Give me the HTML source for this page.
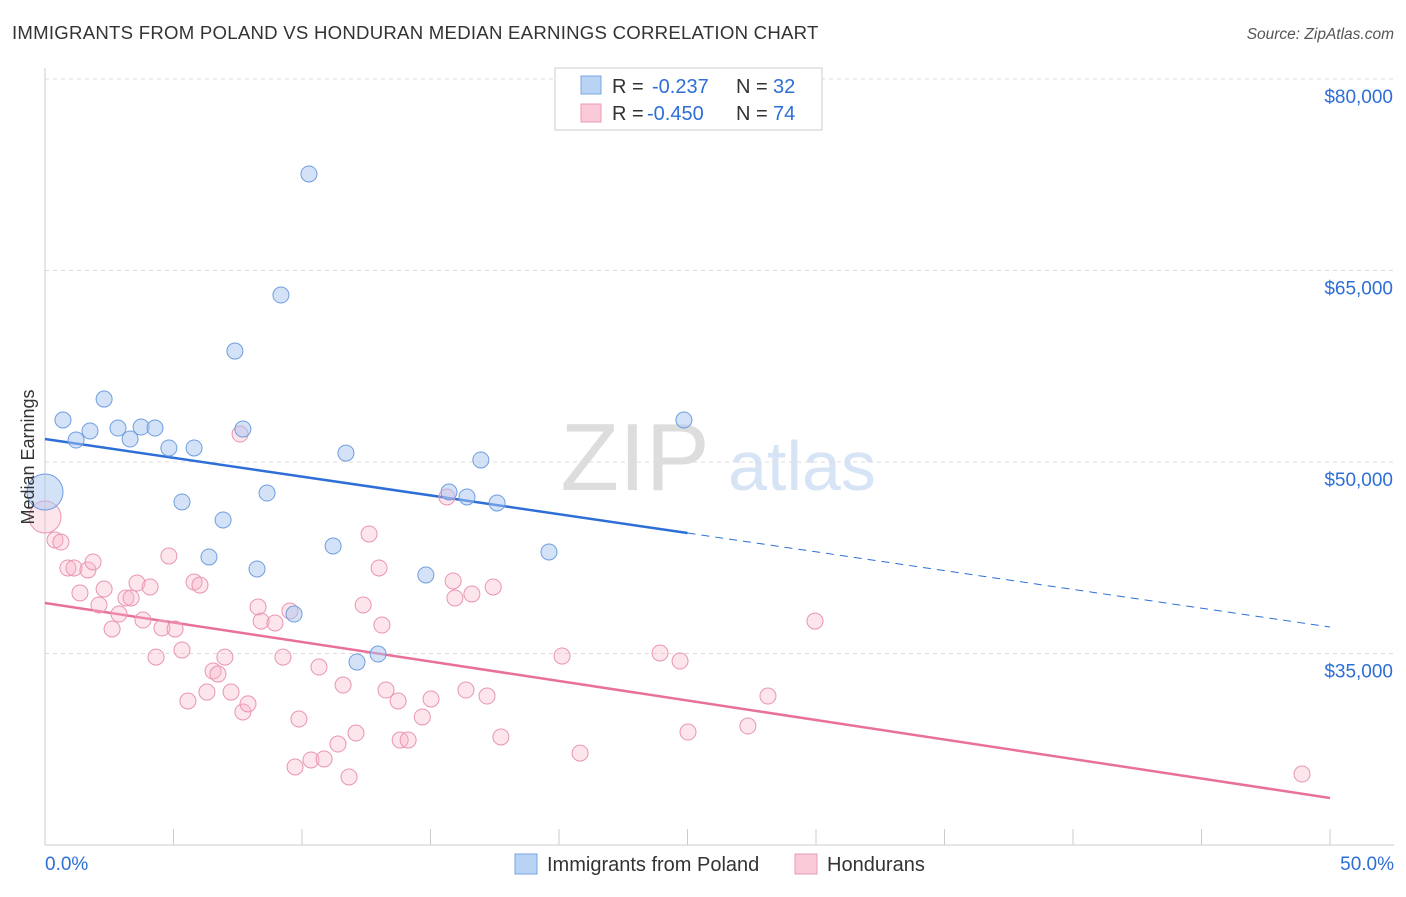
<!DOCTYPE html>
<html><head><meta charset="utf-8"><style>
body{margin:0;background:#fff;font-family:"Liberation Sans",sans-serif}
svg text{font-family:"Liberation Sans",sans-serif}
</style></head><body>
<svg id="chart" width="1406" height="892" viewBox="0 0 1406 892">
<text x="12" y="39" font-size="18.6" letter-spacing="0.25" fill="#333">IMMIGRANTS FROM POLAND VS HONDURAN MEDIAN EARNINGS CORRELATION CHART</text>
<text x="1394" y="39" font-size="15.5" fill="#555" text-anchor="end" font-style="italic">Source: ZipAtlas.com</text>
<g>
<text x="635" y="490" font-size="96" fill="#ddd" text-anchor="middle" font-family="Liberation Serif,serif">ZIP</text>
<text x="802" y="490" font-size="70" fill="#d6e4f6" text-anchor="middle">atlas</text>
</g>
<g id="grid"></g><g id="axes"></g><g id="lines"></g><g id="points"></g>
<text transform="translate(34,457) rotate(-90)" font-size="18" fill="#333" text-anchor="middle">Median Earnings</text>
<g>
<rect x="555" y="68" width="267" height="62" fill="#fff" stroke="#ccc"/>
<rect x="581" y="76" width="20" height="18" fill="#b9d3f5" stroke="#7aa6e3"/>
<text x="612" y="93" font-size="20" fill="#333">R =</text>
<text x="652" y="93" font-size="20" fill="#2d6fd6">-0.237</text>
<text x="736" y="93" font-size="20" fill="#333">N =</text>
<text x="773" y="93" font-size="20" fill="#2d6fd6">32</text>
<rect x="581" y="104" width="20" height="18" fill="#fbcad8" stroke="#ec9ab5"/>
<text x="612" y="120" font-size="20" fill="#333">R =</text>
<text x="647" y="120" font-size="20" fill="#2d6fd6">-0.450</text>
<text x="736" y="120" font-size="20" fill="#333">N =</text>
<text x="773" y="120" font-size="20" fill="#2d6fd6">74</text>
</g>
<g>
<rect x="515" y="854" width="22" height="20" fill="#b9d3f5" stroke="#7aa6e3"/>
<text x="547" y="871" font-size="20" fill="#333">Immigrants from Poland</text>
<rect x="795" y="854" width="22" height="20" fill="#fbcad8" stroke="#ec9ab5"/>
<text x="827" y="871" font-size="20" fill="#333">Hondurans</text>
</g>
</svg>
<script>
const yTicks=[35000,50000,65000,80000];
const yTickLabels=["$35,000","$50,000","$65,000","$80,000"];
const xTickLabels=["0.0%","50.0%"];
const polandX=[0,0.70,1.21,1.75,2.30,2.84,3.31,3.74,4.28,4.82,5.80,5.33,6.93,6.38,7.39,7.70,8.64,8.25,9.18,10.27,9.69,11.21,11.71,12.14,12.96,14.82,15.72,16.42,16.96,17.59,19.61,24.86];
const polandY=[47650,53290,51720,52430,54930,52660,51800,52740,52660,51100,51100,46870,45460,42560,58690,52580,47570,41620,63080,72560,38090,43420,50700,34330,34960,41150,47650,47260,50160,46790,42950,53290];
const hondX=[0,0.39,0.62,0.89,1.13,1.36,1.67,1.87,2.10,2.30,2.61,2.88,3.15,3.35,3.58,3.81,4.09,4.32,4.55,4.82,5.06,5.33,5.56,5.80,6.03,6.30,6.54,6.73,7.00,7.24,7.59,7.70,7.90,8.29,8.41,8.95,9.26,9.53,9.73,9.88,10.35,10.66,10.86,11.40,11.60,11.83,12.10,12.38,12.61,13.00,13.11,13.27,13.74,13.82,14.13,14.68,15.02,15.64,15.88,15.95,16.38,16.61,17.20,17.44,17.74,20.12,20.82,23.93,24.71,25.02,27.35,28.13,29.96,48.91];
const hondY=[45690,43890,43730,41700,41700,39740,41540,42170,38800,40050,36920,38090,39350,39350,40520,37620,40210,34720,37000,42640,36920,35270,31280,40600,40360,31980,33630,33390,34720,31980,52190,30420,31050,38640,37540,37390,34720,38330,26110,29870,26660,33940,26740,27910,32530,25330,28770,38800,44360,41700,37230,32140,31280,28220,28220,30030,31440,47260,40680,39350,32140,39660,31670,40210,28460,34800,27200,35040,34410,28850,29320,31670,37540,25560];
const polandTrend=[51800,37075];
const hondTrend=[38955,23680];
const NS="http://www.w3.org/2000/svg";
const X=v=>45+v/50*1285;
const Y=v=>79+(80000-v)/15000*191.5;
function mk(parent,tag,attrs){const e=document.createElementNS(NS,tag);for(const k in attrs)e.setAttribute(k,attrs[k]);document.getElementById(parent).appendChild(e);return e;}
yTicks.forEach((t,i)=>{
 const g=mk('grid','line',{x1:45,x2:1394,y1:Y(t),y2:Y(t),stroke:'#ddd','stroke-dasharray':'4,4'});
 
 
 const l=mk('axes','text',{x:1393,y:Y(t)+24,'font-size':19,fill:'#2d6fd6','text-anchor':'end'});
 l.textContent=yTickLabels[i];
 
 
});
const ax=mk('axes','line',{x1:45,x2:1394,y1:845,y2:845,stroke:'#ccc'});


const ay=mk('axes','line',{x1:45,x2:45,y1:68,y2:845,stroke:'#ccc'});


for(let p=0;p<=50;p+=5){
 const t=mk('axes','line',{x1:X(p),x2:X(p),y1:829,y2:845,stroke:'#ccc'});
 
 
}
[[0,'start',45],[50,'end',1394]].forEach((d,i)=>{
 const l=mk('axes','text',{x:d[2],y:870,'font-size':19,fill:'#2d6fd6','text-anchor':d[1]});
 l.textContent=xTickLabels[i];
 
 
});
const at=(tr,x)=>tr[0]+(tr[1]-tr[0])*x/50;
const pl=mk('lines','line',{x1:X(0),y1:Y(at(hondTrend,0)),x2:X(50),y2:Y(at(hondTrend,50)),stroke:'#e8709a','stroke-width':2.5});


const bl=mk('lines','line',{x1:X(0),y1:Y(at(polandTrend,0)),x2:X(25),y2:Y(at(polandTrend,25)),stroke:'#2d6fd6','stroke-width':2.5});


const bd=mk('lines','line',{x1:X(25),y1:Y(at(polandTrend,25)),x2:X(50),y2:Y(at(polandTrend,50)),stroke:'#2d6fd6','stroke-width':1,'stroke-dasharray':'8,6'});


hondX.forEach((x,i)=>{
 const c=mk('points','circle',{cx:X(x),cy:Y(hondY[i]),r:i==0?16:8,fill:'rgba(248,180,200,0.35)',stroke:'#e995b2','stroke-width':1});
 
 
});
polandX.forEach((x,i)=>{
 const c=mk('points','circle',{cx:X(x),cy:Y(polandY[i]),r:i==0?18:8,fill:'rgba(170,198,242,0.5)',stroke:'#6f9ee0','stroke-width':1});
 
 
});
</script>
</body></html>
